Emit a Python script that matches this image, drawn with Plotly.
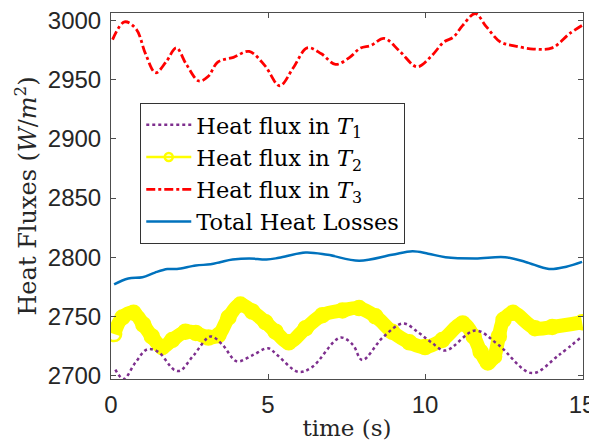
import plotly.graph_objects as go

# ---- data ----
t1 = [0.14, 0.4, 0.78, 1.15, 1.5, 2.0, 2.2, 2.63, 3.17, 3.55, 4.0, 4.5, 5.0, 5.3, 5.97, 6.4, 7.3, 7.7, 8.0,
      8.65, 9.3, 9.8, 10.2, 10.65, 11.6, 12.33, 13.4, 14.25, 15.0]
q1 = [2705, 2697, 2711, 2722, 2720, 2705, 2704, 2717, 2733, 2726, 2712, 2717, 2723, 2717, 2703, 2707, 2732, 2726, 2713,
      2732, 2744, 2736, 2728, 2721, 2738, 2726, 2702, 2717, 2733]

t2 = [0.1, 0.36, 0.72, 1.03, 1.3, 1.63, 1.95, 2.37, 2.7, 3.1, 3.42, 3.74, 4.12, 4.5, 4.92, 5.24, 5.66, 6.2, 6.73,
      7.37, 7.9, 8.42, 8.95, 9.5, 10.0, 10.55, 11.2, 11.55, 11.77, 12.0, 12.2, 12.35, 12.5, 12.8, 13.5, 14.05, 15.0]
q2 = [2735, 2749, 2753, 2743, 2733, 2724, 2730, 2737, 2736, 2732, 2734, 2749, 2760, 2754, 2745, 2737, 2728, 2740, 2751,
      2755, 2757, 2750, 2737, 2728, 2724, 2730, 2744, 2733, 2720, 2711, 2716, 2733, 2747, 2753, 2740, 2741, 2745]

t3 = [0.05, 0.43, 0.8, 1.1, 1.42, 1.75, 2.08, 2.4, 2.8, 3.1, 3.4, 3.9, 4.4, 4.9, 5.37, 5.8, 6.25, 6.7, 7.15, 7.6,
      7.95, 8.27, 8.7, 9.2, 9.75, 10.2, 10.6, 10.9, 11.2, 11.6, 11.95, 12.4, 12.8, 13.45, 14.05, 14.6, 15.0]
q3 = [2984, 2999, 2993, 2972, 2956, 2965, 2977, 2963, 2949, 2953, 2965, 2969, 2974, 2962, 2945, 2960, 2977, 2972, 2963, 2969,
      2977, 2979, 2985, 2974, 2961, 2970, 2982, 2986, 2996, 3006, 2995, 2982, 2979, 2976, 2977, 2989, 2996]

t4 = [0.1, 0.55, 1.0, 1.4, 1.8, 2.1, 2.7, 3.17, 3.5, 3.87, 4.4, 4.95, 5.35, 6.2, 6.9, 7.9, 8.95, 9.6, 10.1, 10.65,
      11.6, 12.55, 13.2, 13.95, 14.5, 15.0]
q4 = [2777, 2782, 2783, 2787, 2790, 2790, 2793, 2794, 2796, 2798, 2799, 2798, 2799.5, 2804, 2802, 2797, 2802, 2805, 2803, 2800,
      2799, 2800, 2796, 2790, 2792, 2796]

names = ["Heat flux in <i>T</i><sub>1</sub>", "Heat flux in <i>T</i><sub>2</sub>",
         "Heat flux in <i>T</i><sub>3</sub>", "Total Heat Losses"]
x_ticks = [0, 5, 10, 15]
y_ticks = [2700, 2750, 2800, 2850, 2900, 2950, 3000]

PURPLE = "#7E2F8E"
YELLOW = "#FFFF00"
RED = "#FF0000"
BLUE = "#0072BD"
SERIF = "DejaVu Serif"

fig = go.Figure()

# yellow band (data, no legend)
fig.add_trace(go.Scatter(x=t2, y=q2, mode="lines", line=dict(color=YELLOW, width=14, shape="spline"),
                         showlegend=False, hoverinfo="skip"))
fig.add_trace(go.Scatter(x=t2, y=q2, mode="markers",
                         marker=dict(symbol="circle-open", size=14, color=YELLOW, line=dict(width=2.5, color=YELLOW)),
                         showlegend=False, hoverinfo="skip"))
# purple
fig.add_trace(go.Scatter(x=t1, y=q1, mode="lines", name=names[0], legendrank=1,
                         line=dict(color=PURPLE, width=2.5, dash="dot", shape="spline")))
# yellow legend entry
fig.add_trace(go.Scatter(x=[None], y=[None], mode="lines+markers", name=names[1], legendrank=2,
                         line=dict(color=YELLOW, width=2.5),
                         marker=dict(symbol="circle-open", size=8, color=YELLOW, line=dict(width=2.5, color=YELLOW))))
# red
fig.add_trace(go.Scatter(x=t3, y=q3, mode="lines", name=names[2], legendrank=3,
                         line=dict(color=RED, width=2.8, dash="dashdot", shape="spline")))
# blue
fig.add_trace(go.Scatter(x=t4, y=q4, mode="lines", name=names[3], legendrank=4,
                         line=dict(color=BLUE, width=2.5, shape="spline")))

axis_common = dict(showline=True, linecolor="#4d4d4d", linewidth=1, mirror="ticks", ticks="inside",
                   ticklen=5, tickcolor="#4d4d4d", showgrid=False, zeroline=False, automargin=False,
                   tickfont=dict(family="Liberation Sans", size=24, color="#262626"))

fig.update_xaxes(range=[0, 15.03], tickvals=x_ticks, ticklabelstandoff=4, ticklabeloverflow="allow",
                 title=dict(text="time (s)", font=dict(family=SERIF, size=23, color="#262626"), standoff=3),
                 **axis_common)
fig.update_yaxes(range=[2697, 3006.5], tickvals=y_ticks, ticklabelstandoff=4, ticklabeloverflow="allow",
                 title=dict(text="Heat Fluxes (<i>W</i>/<i>m</i><sup>2</sup>)",
                            font=dict(family=SERIF, size=24, color="#262626"), standoff=4),
                 **axis_common)

fig.update_layout(
    width=589, height=447,
    margin=dict(l=111, r=6, t=13, b=68),
    plot_bgcolor="white", paper_bgcolor="white",
    legend=dict(x=0.062, y=0.755, xanchor="left", yanchor="top",
                font=dict(family=SERIF, size=22.5, color="black"),
                bgcolor="white", bordercolor="#333333", borderwidth=1,
                itemwidth=45, tracegroupgap=0),
)

fig.write_html("out.html")
